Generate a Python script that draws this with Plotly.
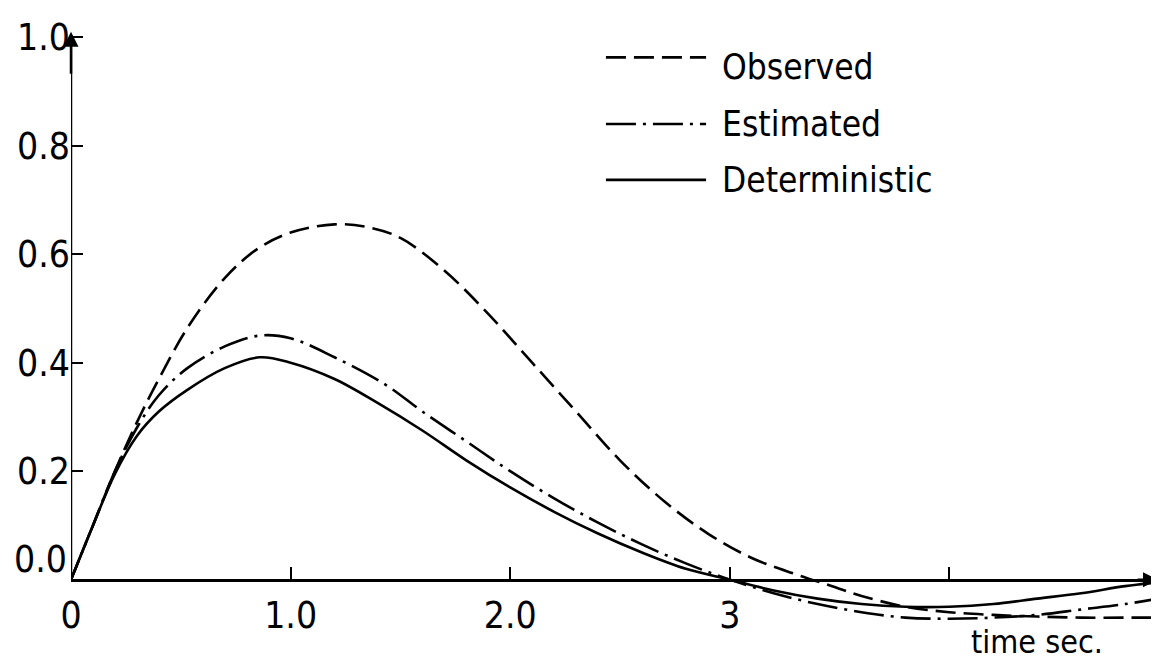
import plotly.graph_objects as go

# ---- data ----
t_det = [0, 0.1, 0.2, 0.3, 0.4, 0.53, 0.7, 0.86, 1.0, 1.2, 1.4, 1.6, 1.8, 2.0, 2.2, 2.4, 2.6, 2.8, 3.0,
         3.2, 3.4, 3.6, 3.8, 4.0, 4.2, 4.4, 4.6, 4.8, 4.95]
v_det = [0, 0.1, 0.195, 0.265, 0.31, 0.35, 0.39, 0.41, 0.40, 0.37, 0.325, 0.275, 0.22, 0.17, 0.125, 0.085,
         0.05, 0.02, 0.0, -0.02, -0.035, -0.045, -0.05, -0.05, -0.045, -0.035, -0.025, -0.012, -0.005]

t_est = [0, 0.1, 0.2, 0.3, 0.4, 0.53, 0.7, 0.86, 1.0, 1.2, 1.43, 1.6, 1.8, 2.0, 2.2, 2.4, 2.6, 2.8, 3.0,
         3.2, 3.4, 3.6, 3.8, 4.0, 4.2, 4.4, 4.6, 4.8, 4.95]
v_est = [0, 0.1, 0.2, 0.28, 0.34, 0.39, 0.43, 0.45, 0.445, 0.41, 0.36, 0.31, 0.255, 0.20, 0.15, 0.105,
         0.065, 0.03, 0.0, -0.025, -0.045, -0.06, -0.07, -0.072, -0.07, -0.065, -0.055, -0.045, -0.035]

t_obs = [0, 0.1, 0.2, 0.3, 0.4, 0.53, 0.7, 0.85, 1.0, 1.2, 1.35, 1.5, 1.7, 1.9, 2.1, 2.3, 2.5, 2.7, 2.9,
         3.1, 3.3, 3.45, 3.6, 3.8, 4.0, 4.2, 4.4, 4.6, 4.8, 4.95]
v_obs = [0, 0.1, 0.2, 0.29, 0.37, 0.464, 0.556, 0.61, 0.64, 0.655, 0.65, 0.63, 0.57, 0.49, 0.40, 0.31,
         0.22, 0.145, 0.085, 0.04, 0.01, -0.01, -0.03, -0.05, -0.06, -0.065, -0.068, -0.07, -0.07, -0.07]

series_names = ["Observed", "Estimated", "Deterministic"]
x_tickvals = [0, 1, 2, 3, 4]
x_ticktext = ["0", "1.0", "2.0", "3", ""]
y_tickvals = [0, 0.2, 0.4, 0.6, 0.8, 1.0]
y_ticktext = ["", "0.2", "0.4", "0.6", "0.8", "1.0"]
y_zero_label = "0.0"
x_title = "time sec."

X_MAX = 4.95
Y_MIN, Y_MAX = -0.15, 1.03

TICK_FONT = dict(family="Liberation Sans Narrow, DejaVu Sans Condensed, DejaVu Sans", size=37, color="black")
TEXT_FONT = dict(family="DejaVu Sans Condensed, DejaVu Sans", size=35, color="black")
TITLE_FONT = dict(family="DejaVu Sans Condensed, DejaVu Sans", size=32, color="black")

styles = {
    "Observed": dict(dash="20px,8px", width=2.6),
    "Estimated": dict(dash="30px,7px,3px,7px", width=2.6),
    "Deterministic": dict(dash="solid", width=2.6),
}

fig = go.Figure()
for name, tx, vy in [("Observed", t_obs, v_obs), ("Estimated", t_est, v_est), ("Deterministic", t_det, v_det)]:
    fig.add_trace(go.Scatter(
        x=tx, y=vy, mode="lines", name=name, line_shape="spline",
        line=dict(color="black", **styles[name]), showlegend=False,
    ))

# y axis line and arrows
fig.add_shape(type="line", x0=0, x1=0, y0=0, y1=1.0, xref="x", yref="y",
              line=dict(color="black", width=2.5))
fig.add_annotation(x=0, y=1.01, ax=0, ay=0.93, xref="x", yref="y", axref="x", ayref="y",
                   text="", showarrow=True, arrowhead=2, arrowsize=1.2, arrowwidth=2.5, arrowcolor="black")
fig.add_annotation(x=X_MAX, y=0, ax=X_MAX - 0.1, ay=0, xref="x", yref="y", axref="x", ayref="y",
                   text="", showarrow=True, arrowhead=2, arrowsize=1.2, arrowwidth=2.5, arrowcolor="black")

# "0.0" label sits just above the corner in the original
fig.add_annotation(x=0, y=0, xref="x", yref="y", text=y_zero_label, showarrow=False,
                   xanchor="right", yanchor="bottom", xshift=-2, yshift=-3, font=TICK_FONT)

# hand-drawn style legend
leg_y_line = [0.963, 0.840, 0.737]
leg_y_text = [0.945, 0.840, 0.737]
for name, yl, yt in zip(series_names, leg_y_line, leg_y_text):
    fig.add_shape(type="line", x0=2.436, x1=2.892, y0=yl, y1=yl, xref="x", yref="y",
                  line=dict(color="black", width=styles[name]["width"], dash=styles[name]["dash"]))
    fig.add_annotation(x=2.955, y=yt, xref="x", yref="y", text=name, showarrow=False,
                       xanchor="left", yanchor="middle", font=TEXT_FONT)

fig.add_annotation(x=4.40, y=-0.115, xref="x", yref="y", text=x_title, showarrow=False,
                   xanchor="center", yanchor="middle", font=TITLE_FONT)

pos0 = (0 - Y_MIN) / (Y_MAX - Y_MIN)
fig.update_layout(
    width=1159, height=660,
    margin=dict(l=63, r=9, t=13, b=7),
    paper_bgcolor="white", plot_bgcolor="white",
    xaxis=dict(range=[0, X_MAX], anchor="free", position=pos0, showline=True, linecolor="black",
               linewidth=3, ticks="inside", ticklen=12, tickwidth=1.5, tickcolor="black",
               tickvals=x_tickvals, ticktext=x_ticktext, tickfont=TICK_FONT, showgrid=False,
               zeroline=False, ticklabelstandoff=2),
    yaxis=dict(range=[Y_MIN, Y_MAX], showline=False, ticks="inside", ticklen=12, tickwidth=1.5,
               tickcolor="black", tickvals=y_tickvals, ticktext=y_ticktext, tickfont=TICK_FONT,
               showgrid=False, zeroline=False, ticklabelstandoff=0),
)

fig.write_html("out.html")
